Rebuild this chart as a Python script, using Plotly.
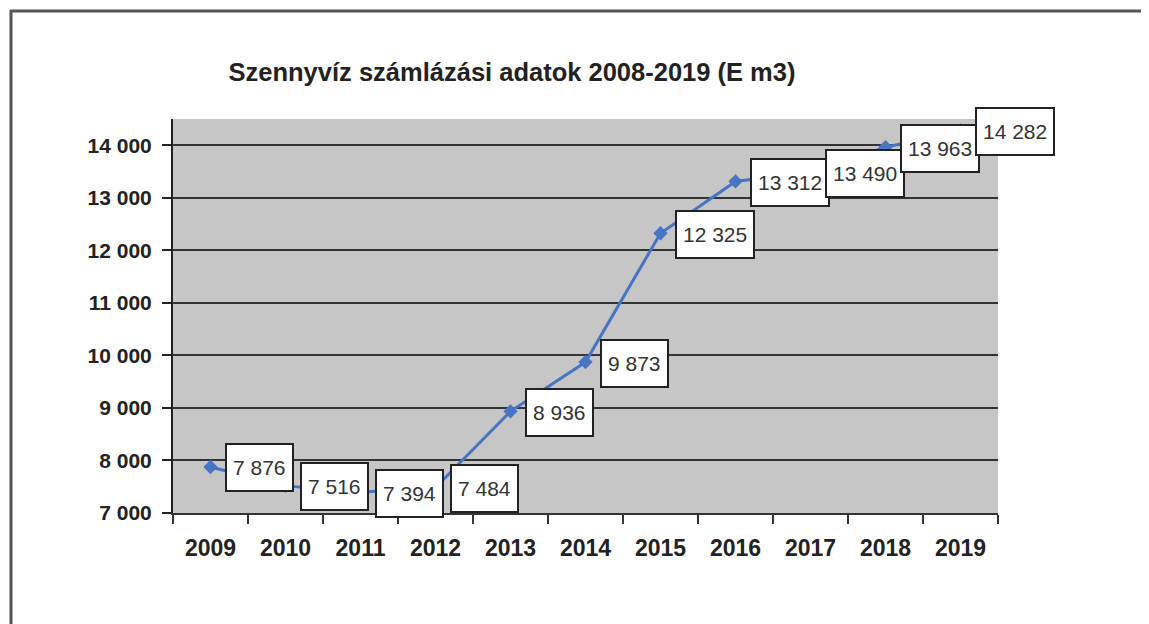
import plotly.graph_objects as go

years = ["2009", "2010", "2011", "2012", "2013", "2014", "2015", "2016", "2017", "2018", "2019"]
values = [7876, 7516, 7394, 7484, 8936, 9873, 12325, 13312, 13490, 13963, 14282]
y_ticks = [7000, 8000, 9000, 10000, 11000, 12000, 13000, 14000]
title_text = "Szennyvíz számlázási adatok 2008-2019 (E m3)"

# page offset (body margin) is 8px; all pixel targets below are page pixels
OFF = 8
W, H = 1149, 624
L, T = 173 - OFF, 119 - OFF
R = W - (998 - OFF)
B = H - (513 - OFF)
pw, ph = W - L - R, H - T - B

FONT = "Liberation Sans, Arial, sans-serif"
LINE_COLOR = "#4874c4"

def fmt(v):
    return f"{v:,}".replace(",", " ")

fig = go.Figure()
fig.add_trace(go.Scatter(
    x=years, y=values, mode="lines+markers",
    line=dict(color=LINE_COLOR, width=3),
    marker=dict(symbol="diamond", size=11, color=LINE_COLOR),
    cliponaxis=False, showlegend=False, hoverinfo="skip",
))

annotations = []
for i, v in enumerate(values):
    annotations.append(dict(
        x=i, y=v, xref="x", yref="y", text=fmt(v), showarrow=False,
        xanchor="left", yanchor="middle", xshift=14, yshift=-1, height=33,
        font=dict(family=FONT, size=21, color="#333333"),
        bgcolor="white", bordercolor="#222222", borderwidth=2, borderpad=6,
    ))

def px_x(p):
    return (p - OFF - L) / pw

def px_y(p):
    return (H - B - (p - OFF)) / ph

shapes = [
    dict(type="line", xref="paper", yref="paper", x0=px_x(10), x1=px_x(1149),
         y0=px_y(11), y1=px_y(11), line=dict(color="#555555", width=3)),
    dict(type="line", xref="paper", yref="paper", x0=px_x(11), x1=px_x(11),
         y0=px_y(10), y1=px_y(640), line=dict(color="#555555", width=3)),
]

fig.update_layout(
    width=W, height=H,
    margin=dict(l=L, r=R, t=T, b=B, pad=0),
    paper_bgcolor="white", plot_bgcolor="#c6c6c6",
    title=dict(text=title_text, x=(512 - OFF) / W, xanchor="center",
               y=1 - (72 - OFF) / H, yanchor="middle",
               font=dict(family=FONT, size=25.5, color="#222222", weight="bold")),
    annotations=annotations, shapes=shapes,
    xaxis=dict(
        type="category", showgrid=False, tickson="boundaries",
        ticks="outside", ticklen=9, tickwidth=2, tickcolor="#333333",
        showline=True, linecolor="#333333", linewidth=2,
        tickfont=dict(family=FONT, size=23, color="#222222", weight="bold"),
        ticklabelstandoff=13, range=[-0.5, 10.5],
    ),
    yaxis=dict(
        range=[7000, 14500], tickvals=y_ticks, ticktext=[fmt(t) for t in y_ticks],
        showgrid=True, gridcolor="#333333", gridwidth=2,
        ticks="outside", ticklen=9, tickwidth=2, tickcolor="#222222",
        showline=True, linecolor="#222222", linewidth=2,
        tickfont=dict(family=FONT, size=21, color="#222222", weight="bold"),
        ticklabelstandoff=6, zeroline=False,
    ),
)

fig.write_html("out.html")
